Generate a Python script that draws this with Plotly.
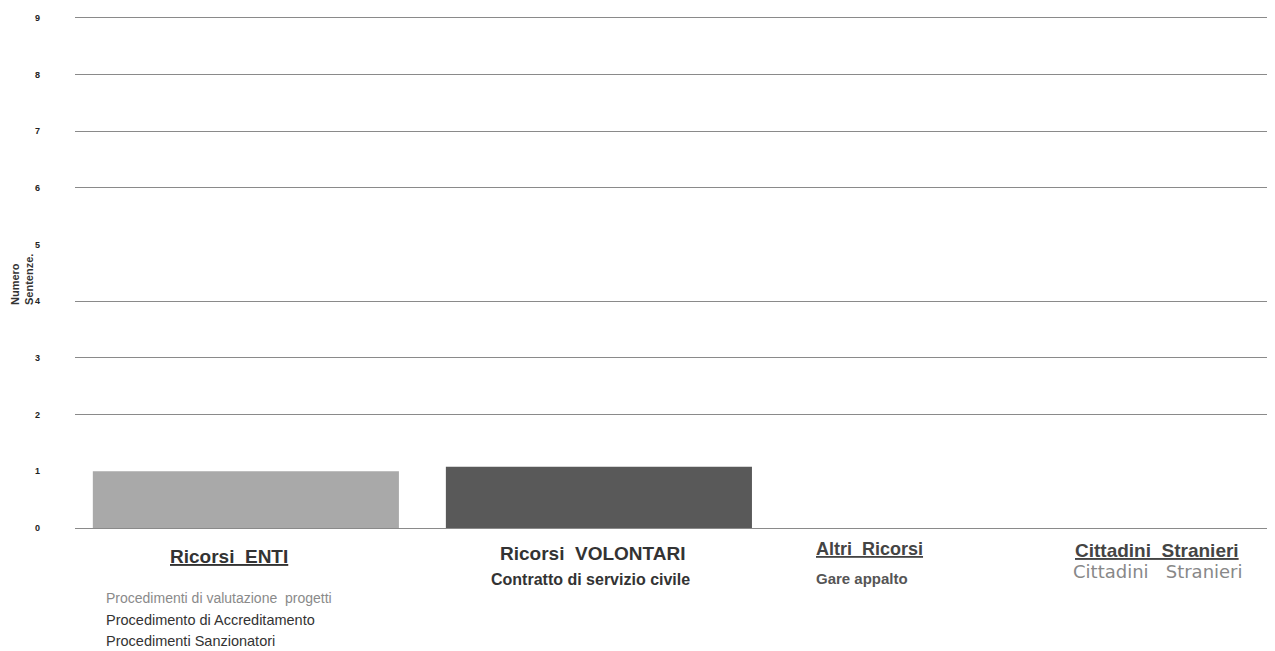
import plotly.graph_objects as go

categories = ["Ricorsi ENTI", "Ricorsi VOLONTARI", "Altri Ricorsi", "Cittadini Stranieri"]
values = [1.0, 1.08, 0, 0]
bar_colors = ["#a9a9a9", "#595959", "#a9a9a9", "#595959"]
y_ticks = [0, 1, 2, 3, 4, 5, 6, 7, 8, 9]
grid_ticks = [2, 3, 4, 6, 7, 8, 9]

# page body has an 8px margin; compensate so the plot lands where the reference has it
OFF = 8
W, H = 1275 - OFF, 651 - OFF
L, R, T, B = 75 - OFF, 0, 16 - OFF, 123
PW = W - L - R
PH = H - T - B
SANS = "Liberation Sans, Arial, sans-serif"
WIDE = "DejaVu Sans, Verdana, sans-serif"

def px(x):
    return (x - OFF - L) / PW

def py(y):
    return (H - B - (y - OFF)) / PH

fig = go.Figure()
fig.add_trace(go.Scatter(x=[categories[0]], y=[0], yaxis="y2", mode="markers",
                         marker=dict(opacity=0), showlegend=False, hoverinfo="skip"))
fig.add_trace(go.Bar(x=categories, y=values, marker=dict(color=bar_colors, line=dict(width=0)),
                     width=0.867, showlegend=False, hoverinfo="x+y"))

fig.update_layout(
    width=W, height=H,
    margin=dict(l=L, r=R, t=T, b=B),
    plot_bgcolor="white", paper_bgcolor="white",
    font=dict(family=SANS, color="#333"),
    xaxis=dict(range=[-0.484, 2.915], showticklabels=False, showgrid=False, zeroline=False,
               showline=False, ticks=""),
    yaxis=dict(range=[0, 9.03], tickvals=y_ticks, showgrid=False, zeroline=False, showline=False,
               ticks="", ticklabelstandoff=34,
               tickfont=dict(size=9, family=SANS, color="#222", weight="bold")),
    yaxis2=dict(range=[0, 9.03], overlaying="y", tickvals=grid_ticks, showticklabels=False,
                showgrid=True, gridcolor="#8a8a8a", gridwidth=1, zeroline=True,
                zerolinecolor="#8a8a8a", zerolinewidth=1, ticks=""),
)

ann = []
ann.append(dict(text="Numero<br>Sentenze.", x=px(22), y=py(280), xref="paper", yref="paper",
                xanchor="center", yanchor="middle", align="left",
                textangle=-90, showarrow=False,
                font=dict(size=11, color="#333", family=SANS, weight="bold")))

def lab(text, xc, yc, size, color, bold=False, underline=False, xanchor="center", family=SANS):
    t = text
    if underline:
        t = "<u>" + t + "</u>"
    ann.append(dict(text=t, x=px(xc), y=py(yc), xref="paper", yref="paper",
                    showarrow=False, xanchor=xanchor, yanchor="middle",
                    font=dict(size=size, color=color, family=family,
                              weight="bold" if bold else "normal")))

lab("Ricorsi  ENTI", 229, 556, 19, "#333", bold=True, underline=True)
lab("Procedimenti di valutazione  progetti", 104, 598, 14, "#8a8a8a", xanchor="left")
lab("Procedimento di Accreditamento", 104, 620, 14.5, "#333", xanchor="left")
lab("Procedimenti Sanzionatori", 104, 641, 14.5, "#333", xanchor="left")
lab("Ricorsi  VOLONTARI", 592, 553, 19, "#333", bold=True)
lab("Contratto di servizio civile", 590, 579, 16, "#333", bold=True)
lab("Altri  Ricorsi", 869, 549, 18, "#444", bold=True, underline=True)
lab("Gare appalto", 862, 578, 15, "#555", bold=True)
lab("Cittadini  Stranieri", 1157, 550, 19, "#444", bold=True, underline=True)
lab("Cittadini   Stranieri", 1158, 571, 18, "#888", family=WIDE)

fig.update_layout(annotations=ann)
fig.write_html("out.html")
